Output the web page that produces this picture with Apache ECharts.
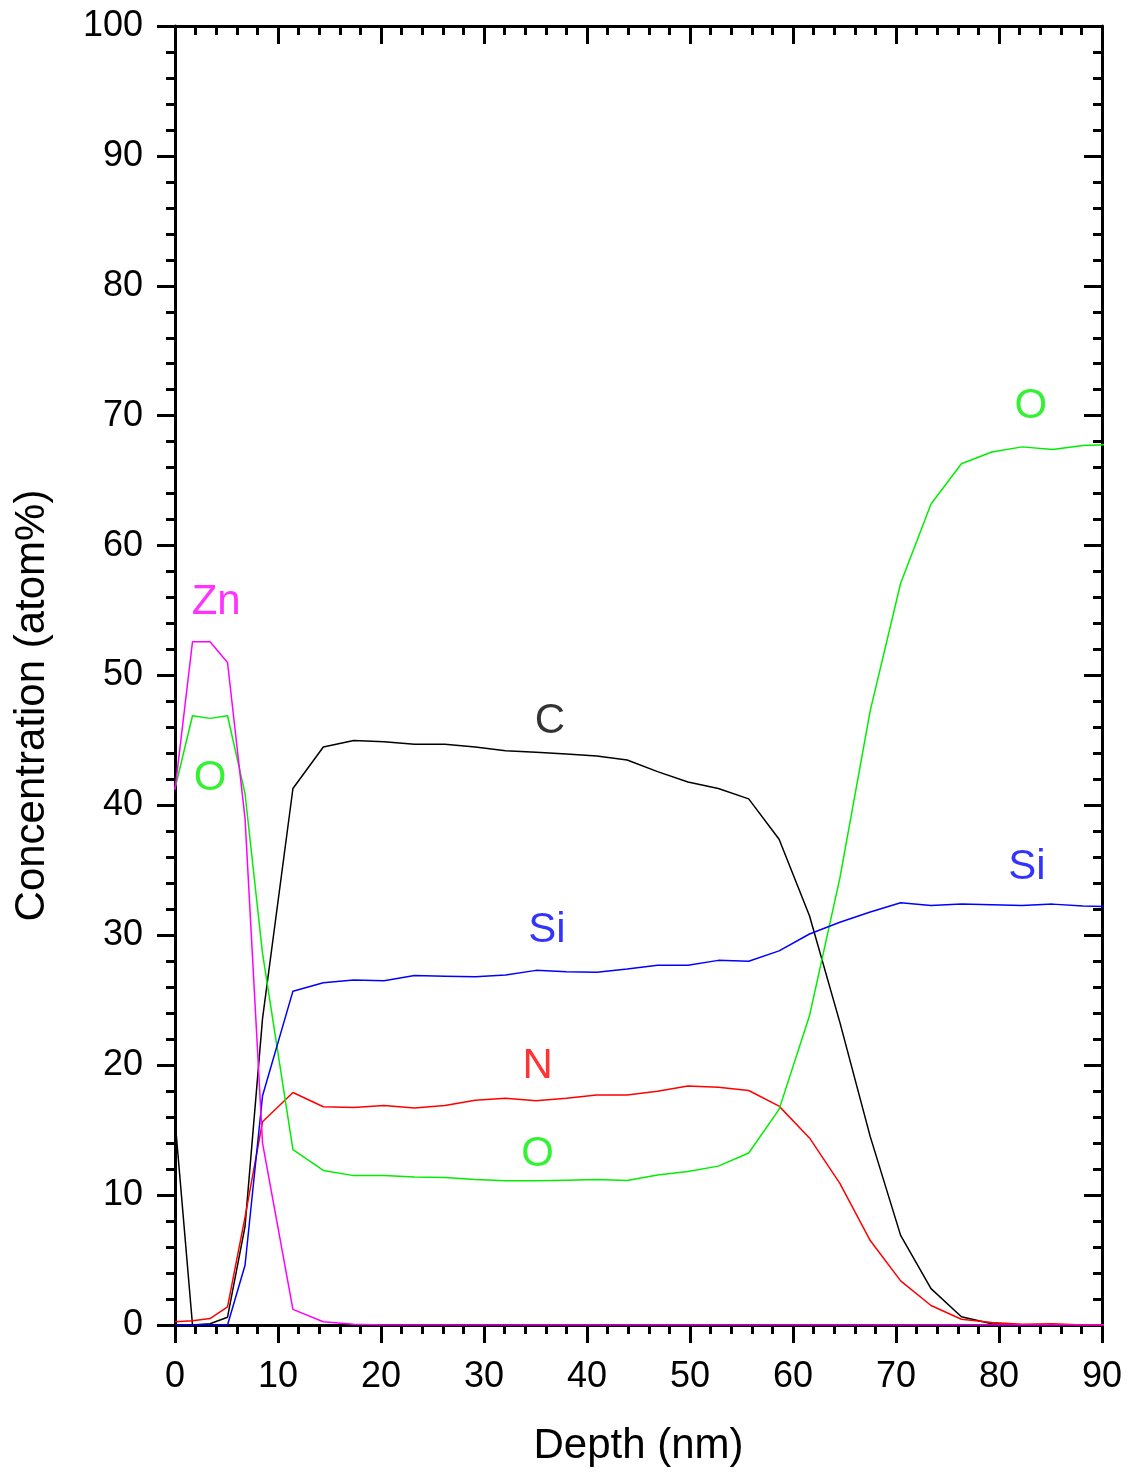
<!DOCTYPE html>
<html>
<head>
<meta charset="utf-8">
<script src="https://cdn.jsdelivr.net/npm/echarts@6/dist/echarts.min.js"></script>
<style>
html,body{margin:0;padding:0;background:#fff;}
#chart{width:1130px;height:1472px;}
</style>
</head>
<body>
<div id="chart"></div>
<script>
// Depth (nm) of each measured point
const depth = [0, 1.7, 3.4, 5.1, 6.8, 8.5, 11.45, 14.4, 17.35, 20.3, 23.25, 26.2, 29.15, 32.1, 35.05, 38.0, 40.95, 43.9, 46.85, 49.8, 52.75, 55.7, 58.65, 61.6, 64.55, 67.5, 70.45, 73.4, 76.35, 79.3, 82.25, 85.2, 88.15, 91.1];
// Concentrations (atom%)
const C  = [15.8, 0, 0.1, 0.6, 7.6, 23.6, 41.3, 44.5, 45.0, 44.9, 44.7, 44.7, 44.5, 44.2, 44.1, 43.95, 43.8, 43.5, 42.6, 41.8, 41.3, 40.5, 37.4, 31.5, 23.3, 14.5, 6.9, 2.8, 0.64, 0.1, 0, 0, 0, 0];
const N  = [0.25, 0.33, 0.5, 1.4, 8.3, 15.65, 17.9, 16.8, 16.75, 16.9, 16.7, 16.9, 17.3, 17.45, 17.27, 17.45, 17.7, 17.7, 18.0, 18.4, 18.3, 18.05, 16.85, 14.4, 10.9, 6.5, 3.4, 1.5, 0.44, 0.2, 0.05, 0.1, 0, 0];
const O  = [41.3, 46.9, 46.7, 46.9, 40.9, 28.6, 13.5, 11.9, 11.5, 11.5, 11.4, 11.35, 11.2, 11.1, 11.1, 11.15, 11.2, 11.13, 11.55, 11.82, 12.23, 13.24, 16.6, 23.8, 34.4, 47.3, 57.1, 63.2, 66.3, 67.2, 67.6, 67.4, 67.7, 67.8];
const Si = [0, 0, 0, 0, 4.6, 17.65, 25.7, 26.35, 26.55, 26.5, 26.9, 26.85, 26.8, 26.95, 27.3, 27.2, 27.15, 27.4, 27.7, 27.7, 28.07, 28.0, 28.8, 30.1, 31.0, 31.8, 32.5, 32.3, 32.4, 32.35, 32.3, 32.4, 32.25, 32.2];
const Zn = [41.2, 52.6, 52.6, 51.0, 39.0, 14.0, 1.2, 0.25, 0.05, 0, 0, 0, 0, 0, 0, 0, 0, 0, 0, 0, 0, 0, 0, 0, 0, 0, 0, 0, 0, 0, 0, 0, 0, 0];
// Element labels: [depth, concentration], text, colour
const labelPos  = [[4.0, 55.6], [3.4, 42.1], [36.4, 46.5], [36.1, 30.4], [35.2, 19.9], [35.2, 13.1], [83.1, 70.7], [82.7, 35.2]];
const labelText = ['Zn', 'O', 'C', 'Si', 'N', 'O', 'O', 'Si'];
const labelColor = ['#ff00ff', '#00ee00', '#000000', '#0000ff', '#ff0000', '#00ee00', '#00ee00', '#0000ff'];
const xTicks = {min: 0, max: 90, interval: 10};
const yTicks = {min: 0, max: 100, interval: 10};

const FONT = '"Liberation Sans", Arial, Helvetica, sans-serif';
const chart = echarts.init(document.getElementById('chart'), null, {renderer: 'canvas'});

function pairs(ys) { return depth.map((d, i) => [d, ys[i]]); }

function axisBase(show, inside) {
  return {
    axisLine: {show: true, onZero: false, lineStyle: {color: '#000', width: 3}},
    axisTick: {show: true, inside: inside, length: 18, lineStyle: {color: '#000', width: 3}},
    minorTick: {show: true, splitNumber: 5, length: 9, lineStyle: {color: '#000', width: 3}},
    splitLine: {show: false},
    minorSplitLine: {show: false},
    axisLabel: {show: show, color: '#000', fontSize: 36, fontFamily: FONT}
  };
}

const lineSeries = [
  ['C', C, '#000000'],
  ['N', N, '#ff0000'],
  ['O', O, '#00ee00'],
  ['Si', Si, '#0000ff'],
  ['Zn', Zn, '#ff00ff']
].map(([name, ys, color]) => ({
  name: name, type: 'line', data: pairs(ys), showSymbol: false, symbol: 'none',
  lineStyle: {color: color, width: 1.5}, itemStyle: {color: color}, clip: true, animation: false
}));

const option = {
  backgroundColor: '#fff',
  animation: false,
  grid: {left: 175, right: 28, top: 26, bottom: 147, containLabel: false},
  xAxis: [
    Object.assign(axisBase(true, false), {
      type: 'value', position: 'bottom', min: xTicks.min, max: xTicks.max, interval: xTicks.interval,
      name: 'Depth (nm)', nameLocation: 'middle', nameGap: 100,
      nameTextStyle: {color: '#000', fontSize: 42, fontFamily: FONT},
      axisLabel: {show: true, color: '#000', fontSize: 36, fontFamily: FONT, margin: 34}
    }),
    Object.assign(axisBase(false, true), {
      type: 'value', position: 'top', min: xTicks.min, max: xTicks.max, interval: xTicks.interval
    })
  ],
  yAxis: [
    Object.assign(axisBase(true, false), {
      type: 'value', position: 'left', min: yTicks.min, max: yTicks.max, interval: yTicks.interval,
      name: 'Concentration (atom%)', nameLocation: 'middle', nameGap: 122, nameRotate: 90,
      nameTextStyle: {color: '#000', fontSize: 42, fontFamily: FONT, padding: [0, 60, 0, 0]},
      axisLabel: {show: true, color: '#000', fontSize: 36, fontFamily: FONT, margin: 32}
    }),
    Object.assign(axisBase(false, true), {
      type: 'value', position: 'right', min: yTicks.min, max: yTicks.max, interval: yTicks.interval
    })
  ],
  series: lineSeries.concat([{
    type: 'scatter', name: 'labels', symbolSize: 1, itemStyle: {color: 'rgba(0,0,0,0)'},
    silent: true, animation: false, z: 5,
    data: labelPos.map((p, i) => ({
      value: p,
      label: {show: true, position: 'inside', formatter: labelText[i], color: labelColor[i],
              fontSize: 42, fontFamily: FONT}
    }))
  }])
};
chart.setOption(option);
</script>
</body>
</html>
